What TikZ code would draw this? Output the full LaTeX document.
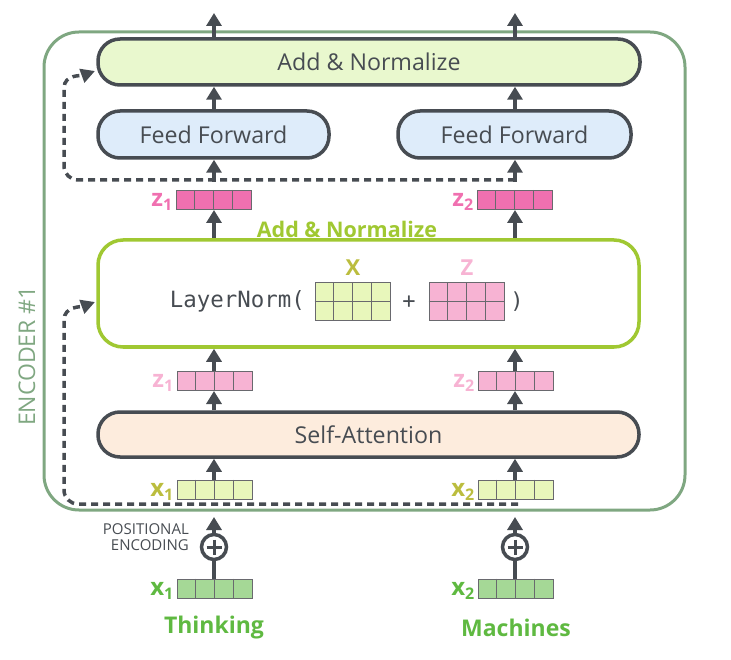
\documentclass[tikz,border=0pt]{standalone}
\usepackage{fontspec}
\setmainfont{Open Sans}
\newfontfamily\monof{DejaVu Sans Mono}
\usetikzlibrary{arrows.meta,calc}
\definecolor{dk}{RGB}{71,76,82}
\definecolor{encg}{RGB}{127,167,129}
\definecolor{addfill}{RGB}{233,248,206}
\definecolor{fffill}{RGB}{222,236,250}
\definecolor{safill}{RGB}{253,236,221}
\definecolor{lng}{RGB}{160,200,50}
\definecolor{pinkd}{RGB}{240,112,176}
\definecolor{pinkl}{RGB}{247,179,211}
\definecolor{xlfill}{RGB}{232,247,187}
\definecolor{olive}{RGB}{187,189,62}
\definecolor{xgfill}{RGB}{165,216,150}
\definecolor{xglab}{RGB}{95,185,65}
\definecolor{cellb}{RGB}{105,105,110}
\tikzset{
  arr/.style={draw=dk, line width=4pt, -{Triangle[width=15pt,length=13pt]}},
  resid/.style={draw=dk, line width=3.5pt, dash pattern=on 7pt off 5pt, -{Triangle[width=14pt,length=14pt]}},
  blk/.style={draw=dk, line width=3.5pt, rounded corners=22pt, minimum height=46pt, inner sep=0pt, font=\fontsize{23.2}{26}\selectfont, text=dk},
  vecbox/.style={draw=cellb, line width=1pt, minimum width=75pt, minimum height=19pt, inner sep=0pt},
  matbox/.style={draw=cellb, line width=1pt, minimum width=75pt, minimum height=38pt, inner sep=0pt},
  cellline/.style={draw=cellb, line width=1pt},
  word/.style={font=\fontsize{23}{26}\selectfont\bfseries, text=xglab}
}
\newcommand{\vlab}[4]{% node, letter, index, colour
  \node[anchor=east, inner sep=0pt, text=#4] (#1lab) at ($(#1.west)+(-3,2)$) {{\fontsize{24}{24}\selectfont\bfseries #2}{\fontsize{16}{16}\selectfont\bfseries\raisebox{-4pt}{#3}}};
}
\newcommand{\mkvec}[4]{% name, x, y, fill
  \node[vecbox, fill=#4] (#1) at (#2,#3) {};
  \foreach \ci in {1,2,3}
    \draw[cellline] ($(#1.north west)!\ci/4!(#1.north east)$) -- ($(#1.south west)!\ci/4!(#1.south east)$);
}
\newcommand{\mkmat}[4]{% name, x, y, fill
  \node[matbox, fill=#4] (#1) at (#2,#3) {};
  \foreach \ci in {1,2,3}
    \draw[cellline] ($(#1.north west)!\ci/4!(#1.north east)$) -- ($(#1.south west)!\ci/4!(#1.south east)$);
  \draw[cellline] (#1.west) -- (#1.east);
}
\begin{document}
\begin{tikzpicture}[x=1pt,y=-1pt]
\useasboundingbox (0,0) rectangle (731,660);

% encoder frame
\node[draw=encg, line width=3pt, rounded corners=35pt, minimum width=641pt, minimum height=478pt, inner sep=0pt] (enc) at (364.5,271) {};
\node[rotate=90, text=encg, font=\fontsize{23}{23}\selectfont, inner sep=0pt] (enclab) at (27,356) {ENCODER \#1};

% blocks
\node[blk, fill=addfill, minimum width=542pt] (addtop) at (369,62) {Add \& Normalize};
\node[blk, fill=fffill, minimum width=231pt, minimum height=47pt] (ffL) at (213.5,134.5) {Feed Forward};
\node[blk, fill=fffill, minimum width=233pt, minimum height=47pt] (ffR) at (514.5,134.5) {Feed Forward};
\node[blk, fill=safill, minimum width=541pt, minimum height=45pt] (sa) at (368.5,434.5) {Self-Attention};
\node[draw=lng, line width=3.5pt, rounded corners=25pt, minimum width=541pt, minimum height=107pt, inner sep=0pt, fill=white] (ln) at (368.5,293.5) {};
\node[text=lng, font=\fontsize{21.5}{22}\selectfont\bfseries, inner sep=0pt] (lnlab) at (347,229) {Add \& Normalize};

% LayerNorm contents
\node[anchor=east, inner sep=0pt, text=dk, font=\monof\fontsize{22.4}{22}\selectfont] (lntext) at (305,301) {LayerNorm(};
\mkmat{Xm}{352.5}{302}{xlfill}
\mkmat{Zm}{466.5}{302}{pinkl}
\node[text=olive, font=\fontsize{22}{22}\selectfont\bfseries, inner sep=0pt] (Xlab) at (353,267.5) {X};
\node[text=pinkl, font=\fontsize{22}{22}\selectfont\bfseries, inner sep=0pt] (Zlab) at (467,267.5) {Z};
\node[text=dk, font=\monof\fontsize{22}{22}\selectfont, inner sep=0pt] (plus) at (409,302) {+};
\node[text=dk, font=\monof\fontsize{22}{22}\selectfont, inner sep=0pt] (rpar) at (517,302) {)};

% vectors
\mkvec{z1d}{213.5}{200}{pinkd} \vlab{z1d}{z}{1}{pinkd}
\mkvec{z2d}{514.5}{200}{pinkd} \vlab{z2d}{z}{2}{pinkd}
\mkvec{z1l}{214.5}{381}{pinkl} \vlab{z1l}{z}{1}{pinkl}
\mkvec{z2l}{515.5}{381}{pinkl} \vlab{z2l}{z}{2}{pinkl}
\mkvec{x1l}{214.5}{489.5}{xlfill} \vlab{x1l}{x}{1}{olive}
\mkvec{x2l}{515.5}{489.5}{xlfill} \vlab{x2l}{x}{2}{olive}
\mkvec{x1g}{214.5}{588.5}{xgfill} \vlab{x1g}{x}{1}{xglab}
\mkvec{x2g}{515.5}{588.5}{xgfill} \vlab{x2g}{x}{2}{xglab}

% positional encoding circles
\foreach \n/\x in {pL/214, pR/515}{
  \node[circle, draw=dk, line width=3.5pt, minimum size=25pt, inner sep=0pt] (\n) at (\x,547) {};
  \draw[dk, line width=3pt] ($(\n)+(-7.5,0)$) -- ($(\n)+(7.5,0)$) ($(\n)+(0,-7.5)$) -- ($(\n)+(0,7.5)$);
}
\node[anchor=east, align=right, text=dk, font=\fontsize{15}{15.5}\selectfont, inner sep=0pt] (poslab) at (189,537) {POSITIONAL\\ENCODING};

% named free ends
\coordinate (outL) at (214,13);
\coordinate (outR) at (515,13);
\coordinate (inL) at (214,517);
\coordinate (inR) at (515,517);
\coordinate (r1s) at (515,180);
\coordinate (r1e) at (95,71);
\coordinate (r2s) at (518,504);
\coordinate (r2e) at (95,302);

% residual dashed connections
\draw[resid] (r1s) -- (78,180) to[out=180,in=-90] (64,166) -- (64,88) to[out=90,in=200] (r1e);
\draw[resid] (r2s) -- (78,504) to[out=180,in=-90] (64,490) -- (64,320) to[out=90,in=200] (r2e);

% arrows
\draw[arr] (addtop.north -| outL) -- (outL);
\draw[arr] (addtop.north -| outR) -- (outR);
\draw[arr] (ffL.north -| outL) -- (addtop.south -| outL);
\draw[arr] (ffR.north -| outR) -- (addtop.south -| outR);
\draw[arr] (214,182) -- (ffL.south -| outL);
\draw[arr] (515,182) -- (ffR.south -| outR);
\draw[arr] (ln.north -| outL) -- (z1d.south -| outL);
\draw[arr] (ln.north -| outR) -- (z2d.south -| outR);
\draw[arr] (z1l.north -| outL) -- (ln.south -| outL);
\draw[arr] (z2l.north -| outR) -- (ln.south -| outR);
\draw[arr] (sa.north -| outL) -- (z1l.south -| outL);
\draw[arr] (sa.north -| outR) -- (z2l.south -| outR);
\draw[arr] (x1l.north -| outL) -- (sa.south -| outL);
\draw[arr] (x2l.north -| outR) -- (sa.south -| outR);
\draw[arr] (pL.north) -- (inL);
\draw[arr] (pR.north) -- (inR);
\draw[dk, line width=4pt] (x1g.north -| pL) -- (pL.south);
\draw[dk, line width=4pt] (x2g.north -| pR) -- (pR.south);

% words
\node[word] (thinking) at (214,628) {Thinking};
\node[word] (machines) at (516,628) {Machines};
\end{tikzpicture}
\end{document}
